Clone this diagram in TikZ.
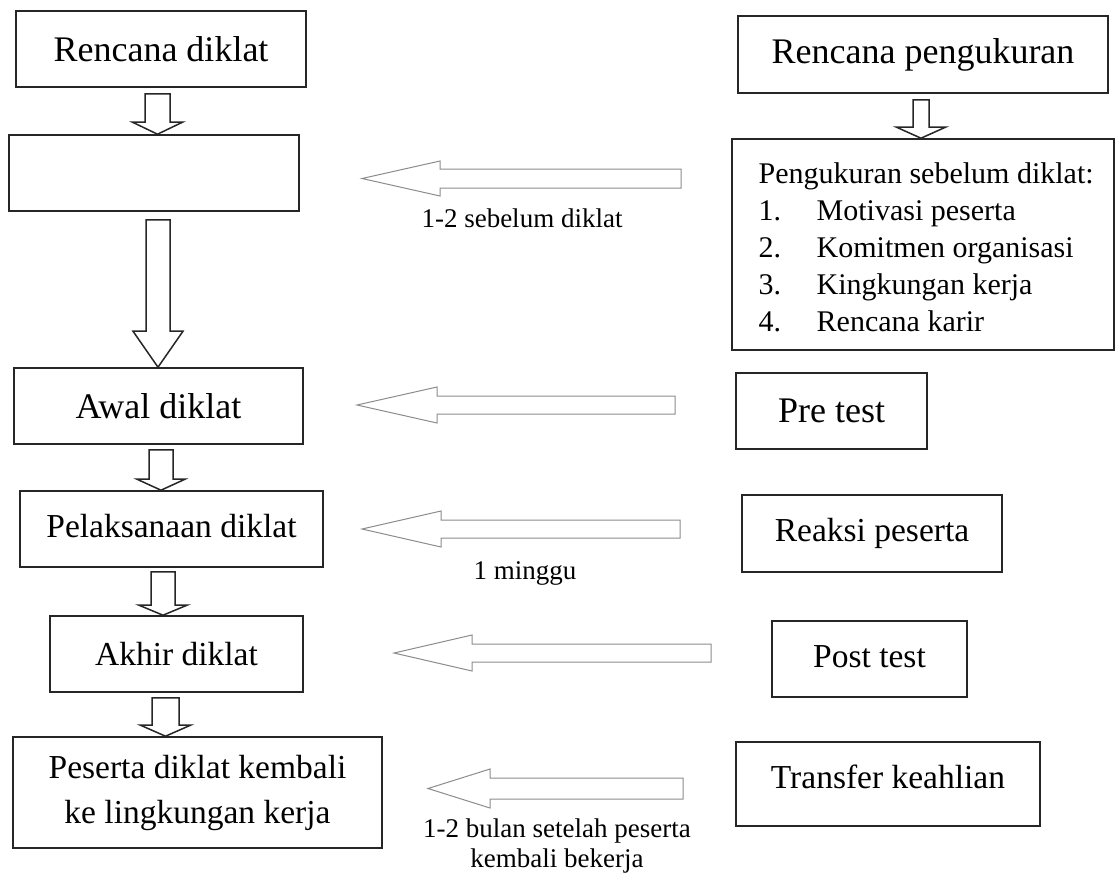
\documentclass[tikz,border=0pt]{standalone}
\usepackage{fontspec}
\setmainfont{Liberation Serif}
\usetikzlibrary{calc}
\tikzset{
 box/.style={draw=black!85, line width=1.6pt, inner sep=0pt, fill=white},
 big/.style={font=\fontsize{36}{43}\selectfont},
 mid/.style={font=\fontsize{33.5}{45}\selectfont},
 lab/.style={font=\fontsize{27}{32}\selectfont},
 lst/.style={font=\fontsize{30}{37}\selectfont},
 varr/.style={draw=black!85, line width=1.5pt, line join=miter, fill=white},
 harr/.style={draw=black!45, line width=1pt, fill=white},
}
% vertical block arrow: from, to, centre x, shaft half width, head half width, head length, top gap
\newcommand{\varrow}[7]{%
 \draw[varr] let \p1=(#1.south), \p2=(#2.north) in
  ({(#3-#4)*1pt},{\y1-#7*1pt}) -- ({(#3+#4)*1pt},{\y1-#7*1pt}) --
  ({(#3+#4)*1pt},{\y2+#6*1pt}) -- ({(#3+#5)*1pt},{\y2+#6*1pt}) --
  ({#3*1pt},{\y2}) -- ({(#3-#5)*1pt},{\y2+#6*1pt}) --
  ({(#3-#4)*1pt},{\y2+#6*1pt}) -- cycle;}
% horizontal block arrow: name, right x, tip x, y, shaft half height, head half height, head length
\newcommand{\harrow}[7]{%
 \coordinate (#1s) at (#2,#4);
 \coordinate (#1t) at (#3,#4);
 \draw[harr] let \p1=(#1s), \p2=(#1t) in
  (\x1,{\y1+#5*1pt}) -- ({\x2+#7*1pt},{\y1+#5*1pt}) -- ({\x2+#7*1pt},{\y1+#6*1pt}) --
  (\x2,\y2) -- ({\x2+#7*1pt},{\y1-#6*1pt}) -- ({\x2+#7*1pt},{\y1-#5*1pt}) --
  (\x1,{\y1-#5*1pt}) -- cycle;}
\begin{document}
\begin{tikzpicture}[x=1pt,y=-1pt]
\useasboundingbox (0,0) rectangle (1115,876);
% left column
\node[box,big,minimum width=290pt,minimum height=76pt] (rd) at (161,49) {Rencana diklat};
\node[box,minimum width=290pt,minimum height=76pt] (b2) at (154,173) {};
\node[box,big,minimum width=289pt,minimum height=76pt] (awal) at (158.5,406) {Awal diklat};
\node[box,mid,minimum width=303pt,minimum height=76pt,text depth=6pt] (pel) at (171.5,529) {Pelaksanaan diklat};
\node[box,mid,minimum width=253pt,minimum height=76pt] (akhir) at (176.5,654) {Akhir diklat};
\node[box,mid,minimum width=369pt,minimum height=111pt,align=center] (pes) at (197.5,792.5) {Peserta diklat kembali\\ke lingkungan kerja};
% right column
\node[box,big,minimum width=370pt,minimum height=77pt] (rp) at (923,54.5) {Rencana pengukuran};
\node[box,minimum width=382pt,minimum height=211pt] (peng) at (923,244.5) {};
\node[lst,anchor=base west] (p0) at ($(peng.north west)+(24,45)$) {Pengukuran sebelum diklat:};
\node[lst,anchor=base west] (p1) at ($(peng.north west)+(24,82)$) {\makebox[58pt][l]{1.}Motivasi peserta};
\node[lst,anchor=base west] (p2) at ($(peng.north west)+(24,119)$) {\makebox[58pt][l]{2.}Komitmen organisasi};
\node[lst,anchor=base west] (p3) at ($(peng.north west)+(24,156)$) {\makebox[58pt][l]{3.}Kingkungan kerja};
\node[lst,anchor=base west] (p4) at ($(peng.north west)+(24,193)$) {\makebox[58pt][l]{4.}Rencana karir};
\node[box,big,minimum width=191pt,minimum height=76pt] (pre) at (831.5,411) {Pre test};
\node[box,mid,minimum width=260pt,minimum height=77pt] (rea) at (872,533.5) {Reaksi peserta};
\node[box,mid,minimum width=195pt,minimum height=76pt,text depth=5pt] (post) at (869.5,659) {Post test};
\node[box,mid,minimum width=304pt,minimum height=84pt,text depth=14pt] (trans) at (888,784) {Transfer keahlian};
% vertical block arrows
\varrow{rd}{b2}{157.5}{12.5}{25}{12}{6}
\varrow{b2}{awal}{158}{12}{25}{36}{8}
\varrow{awal}{pel}{161}{12}{24}{11}{5}
\varrow{pel}{akhir}{163}{12}{24}{10}{4}
\varrow{akhir}{pes}{165.5}{13.5}{25}{11}{5}
\varrow{rp}{peng}{921}{8}{24.5}{11}{6}
% horizontal arrows
\harrow{ha}{681}{362}{178.5}{9.5}{17.5}{78}
\harrow{hb}{675}{357}{405}{9}{18}{80}
\harrow{hc}{680}{362}{529}{9}{18}{79}
\harrow{hd}{711}{394}{653}{9}{18}{78}
\harrow{he}{683}{428}{788.5}{10.5}{19.5}{62}
% labels
\node[lab,anchor=base] (la) at (522,227) {1-2 sebelum diklat};
\node[lab,anchor=base] (lc) at (525,579) {1 minggu};
\node[lab,anchor=base] (le1) at (557,837) {1-2 bulan setelah peserta};
\node[lab,anchor=base] (le2) at (557,867) {kembali bekerja};
\end{tikzpicture}
\end{document}
